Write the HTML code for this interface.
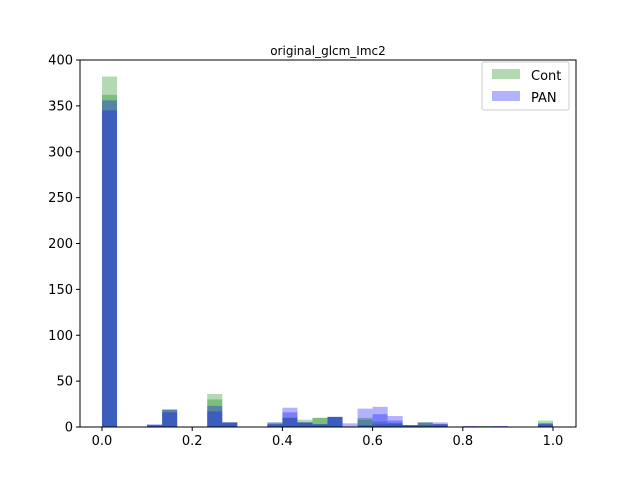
<!DOCTYPE html>
<html><head><meta charset="utf-8"><style>
body{margin:0;background:#fff;}
svg{display:block;font-family:"DejaVu Sans","Liberation Sans",sans-serif;}
</style></head><body>
<svg id="chart" width="640" height="480">
<rect width="640" height="480" fill="#fff"/>
<g id="bars"></g>
<g id="axes"></g>
<text x="328" y="55" font-size="12" text-anchor="middle">original_glcm_Imc2</text>
<g>
<rect x="482" y="62" width="87" height="48" rx="2" fill="#fff" stroke="#ccc"/>
<rect x="492" y="69" width="28" height="10" fill="#008000" fill-opacity="0.3"/>
<text x="531" y="80" font-size="13">Cont</text>
<rect x="492" y="91" width="28" height="10" fill="#0000ff" fill-opacity="0.3"/>
<text x="531" y="102" font-size="13">PAN</text>
</g>
</svg>
<script>
const binCount = 30;
const contA = [382,0,0,2,19,0,0,36,5,0,0,5,10,8,10,11,0,10,6,4,2,5,3,0,0,1,0,0,0,7];
const contB = [362,0,0,2,19,0,0,30,5,0,0,3,10,5,10,11,0,8,3,4,2,5,3,0,0,1,0,0,0,4];
const panA  = [356,0,0,3,19,0,0,23,5,0,0,5,21,5,3,11,4,20,22,12,2,5,5,0,1,0,1,0,0,4];
const panB  = [345,0,0,2,16,0,0,17,5,0,0,3,16,5,3,11,0,2,14,7,2,2,3,0,1,0,1,0,0,3];
const xTicks = [0,0.2,0.4,0.6,0.8,1.0];
const xTickLabels = ["0.0","0.2","0.4","0.6","0.8","1.0"];
const yTicks = [0,50,100,150,200,250,300,350,400];
const NS="http://www.w3.org/2000/svg";
const L=80,R=576,T=60,B=427;
const x=v=>102+v*451;
const y=v=>427-v*0.9175;
const bars=document.getElementById('bars');
function drawSeries(vals,color){
  vals.forEach((v,i)=>{
    if(v<=0)return;
    const r=document.createElementNS(NS,'rect');
    const x0=x(i/binCount),x1=x((i+1)/binCount);
    r.setAttribute('x',x0);r.setAttribute('width',x1-x0);
    r.setAttribute('y',y(v));r.setAttribute('height',y(0)-y(v));
    r.setAttribute('fill',color);r.setAttribute('fill-opacity','0.3');
    
    
    bars.appendChild(r);
  });
}
drawSeries(contA,'#008000');
drawSeries(contB,'#008000');
drawSeries(panA,'#0000ff');
drawSeries(panB,'#0000ff');
const ax=document.getElementById('axes');
function el(tag,attrs,text){const e=document.createElementNS(NS,tag);for(const k in attrs)e.setAttribute(k,attrs[k]);if(text!=null)e.textContent=text;ax.appendChild(e);return e;}
const frame=el('rect',{x:L,y:T,width:R-L,height:B-T,fill:'none',stroke:'#000','stroke-width':1});


xTicks.forEach((t,i)=>{
  const l=el('line',{x1:x(t),x2:x(t),y1:B,y2:B+4,stroke:'#000'});
  
  
  const tx=el('text',{x:x(t),y:B+18,'font-size':13,'text-anchor':'middle'},xTickLabels[i]);
  
  
});
yTicks.forEach(t=>{
  const l=el('line',{x1:L-4,x2:L,y1:y(t),y2:y(t),stroke:'#000'});
  
  
  const tx=el('text',{x:L-7,y:y(t)+4.5,'font-size':13,'text-anchor':'end'},String(t));
  
  
});
</script>
</body></html>
